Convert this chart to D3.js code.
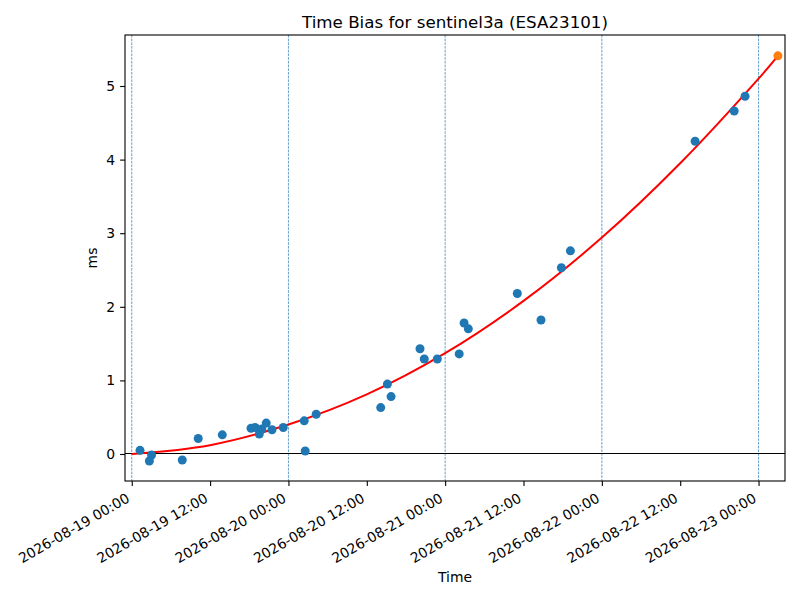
<!DOCTYPE html>
<html>
<head>
<meta charset="utf-8">
<script src="https://cdn.jsdelivr.net/npm/d3@7"></script>
<style>
  body { margin: 0; background: #fff; }
  svg, svg text { font-family: 'DejaVu Sans', sans-serif; }
</style>
</head>
<body>
<div id="chart"></div>
<script>
// measured observations (time, bias in ms)
var obsTimes = [
  '2026-08-19 01:16', '2026-08-19 02:42', '2026-08-19 03:02', '2026-08-19 07:44',
  '2026-08-19 10:11', '2026-08-19 13:52', '2026-08-19 18:16', '2026-08-19 18:53',
  '2026-08-19 19:32', '2026-08-19 19:55', '2026-08-19 20:36', '2026-08-19 21:29',
  '2026-08-19 23:12', '2026-08-20 02:25', '2026-08-20 02:34', '2026-08-20 04:15',
  '2026-08-20 14:08', '2026-08-20 15:09', '2026-08-20 15:43', '2026-08-20 20:09',
  '2026-08-20 20:48', '2026-08-20 22:48', '2026-08-21 02:09', '2026-08-21 02:54',
  '2026-08-21 03:33', '2026-08-21 11:03', '2026-08-21 14:41', '2026-08-21 17:48',
  '2026-08-21 19:11', '2026-08-22 14:17', '2026-08-22 20:16', '2026-08-22 21:56'
]
var obsBias = [
  0.05, -0.095, -0.014, -0.082,
  0.21, 0.26, 0.35, 0.36,
  0.27, 0.34, 0.42, 0.33,
  0.36, 0.45, 0.04, 0.54,
  0.63, 0.95, 0.78, 1.43,
  1.29, 1.29, 1.36, 1.78,
  1.70, 2.18, 1.82, 2.53,
  2.76, 4.25, 4.66, 4.86
]

// predicted point (orange)
var predTime = ['2026-08-23 02:58']
var predBias = [5.41]

var fitTimes = [
  '2026-08-19 00:00', '2026-08-19 12:00', '2026-08-20 00:00', '2026-08-20 12:00',
  '2026-08-21 00:00', '2026-08-21 12:00', '2026-08-22 00:00', '2026-08-22 12:00',
  '2026-08-23 00:00', '2026-08-23 02:58'
]
var fitBias = [0, 0.12, 0.40, 0.81, 1.37, 2.08, 2.94, 3.95, 5.10, 5.41]

var midnights = ['2026-08-19 00:00', '2026-08-20 00:00', '2026-08-21 00:00',
  '2026-08-22 00:00', '2026-08-23 00:00']
var yTicks = [0, 1, 2, 3, 4, 5]
var xDomain = ['2026-08-18 22:58', '2026-08-23 04:03']
var yDomain = [-0.367, 5.693]

var parse = d3.utcParse('%Y-%m-%d %H:%M')
var fmt = d3.utcFormat('%Y-%m-%d %H:%M')

var margin = { top: 35, left: 125, right: 15, bottom: 119 }
var width = 800 - margin.left - margin.right
var height = 600 - margin.top - margin.bottom

var svg = d3
  .select('#chart')
  .append('svg')
  .attr('width', 800)
  .attr('height', 600)

var g = svg
  .append('g')
  .attr('transform', 'translate(' + margin.left + ',' + margin.top + ')')

var x = d3.scaleUtc().domain(xDomain.map(parse)).range([0, width])
var y = d3.scaleLinear().domain(yDomain).range([height, 0])

// day separators
g.selectAll('.day')
  .data(midnights)
  .enter()
  .append('line')
  .attr('x1', d => x(parse(d)))
  .attr('x2', d => x(parse(d)))
  .attr('y1', 0)
  .attr('y2', height)
  .attr('stroke', '#1f77b4')
  .attr('stroke-width', 0.7)
  .attr('stroke-dasharray', '2.6,1.1')

// zero line
g.append('line')
  .attr('x1', 0)
  .attr('x2', width)
  .attr('y1', y(0))
  .attr('y2', y(0))
  .attr('stroke', 'black')
  .attr('stroke-width', 1)
  .attr('shape-rendering', 'crispEdges')

var fit = fitTimes.map((t, i) => [parse(t), fitBias[i]])
var line = d3
  .line()
  .x(d => x(d[0]))
  .y(d => y(d[1]))
  .curve(d3.curveCatmullRom)

g.append('path')
  .datum(fit)
  .attr('d', line)
  .attr('fill', 'none')
  .attr('stroke', 'red')
  .attr('stroke-width', 2)

var obs = obsTimes.map((t, i) => [parse(t), obsBias[i]])
g.selectAll('.obs')
  .data(obs)
  .enter()
  .append('circle')
  .attr('cx', d => x(d[0]))
  .attr('cy', d => y(d[1]))
  .attr('r', 4.5)
  .attr('fill', '#1f77b4')

g.selectAll('.pred')
  .data(predTime.map((t, i) => [parse(t), predBias[i]]))
  .enter()
  .append('circle')
  .attr('cx', d => x(d[0]))
  .attr('cy', d => y(d[1]))
  .attr('r', 4.5)
  .attr('fill', '#ff7f0e')

// axes
var xAxis = g
  .append('g')
  .attr('transform', 'translate(0,' + height + ')')
  .call(
    d3.axisBottom(x)
      .ticks(d3.utcHour.every(12))
      .tickFormat(fmt)
      .tickSizeInner(4.9)
      .tickSizeOuter(0)
      .tickPadding(4.9)
  )
  .attr('font-family', 'DejaVu Sans')
xAxis.selectAll('text')
  .attr('font-size', 13.9)
  .attr('fill', 'black')
  .attr('text-anchor', 'end')
  .attr('dy', null)
  .attr('y', null)
  .attr('transform', 'translate(-1.7,20) rotate(-30)')

var yAxis = g
  .append('g')
  .call(
    d3.axisLeft(y)
      .tickValues(yTicks)
      .tickFormat(d3.format('d'))
      .tickSizeInner(4.9)
      .tickSizeOuter(0)
      .tickPadding(4.9)
  )
  .attr('font-family', 'DejaVu Sans')
yAxis.selectAll('text').attr('font-size', 13.9).attr('fill', 'black')

svg.selectAll('.tick line').attr('stroke', 'black').attr('stroke-width', 1.1)
svg.selectAll('.domain').remove()

// frame
g.append('rect')
  .attr('width', width)
  .attr('height', height)
  .attr('fill', 'none')
  .attr('stroke', 'black')
  .attr('stroke-width', 1.1)

svg.append('text')
  .attr('x', margin.left + width / 2)
  .attr('y', 28)
  .attr('text-anchor', 'middle')
  .attr('font-size', 16.7)
  .text('Time Bias for sentinel3a (ESA23101)')

svg.append('text')
  .attr('x', margin.left + width / 2)
  .attr('y', 582)
  .attr('text-anchor', 'middle')
  .attr('font-size', 13.9)
  .text('Time')

svg.append('text')
  .attr('transform', 'translate(97,' + (margin.top + height / 2) + ') rotate(-90)')
  .attr('text-anchor', 'middle')
  .attr('font-size', 13.9)
  .text('ms')
</script>
</body>
</html>
